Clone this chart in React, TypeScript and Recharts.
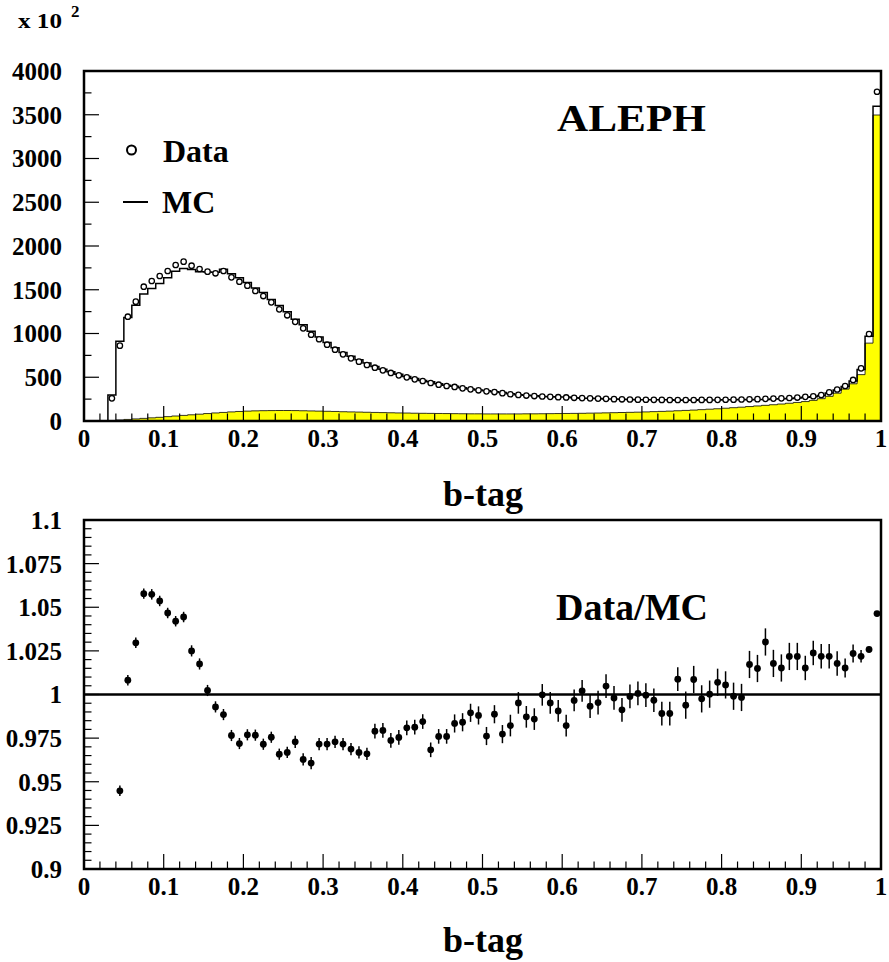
import React from "react";
import {
  ComposedChart,
  XAxis,
  YAxis,
  Line,
  Area,
  Scatter,
  ErrorBar,
  ReferenceLine,
  ReferenceArea,
} from "recharts";

// 100 bins of width 0.01 on the b-tag axis
const BIN_WIDTH = 0.01;
const N_BINS = 100;

// MC total, per bin (units of 10^2)
const mcCounts = [
  0, 0, 0, 297, 911, 1183, 1324, 1451, 1514, 1572,
  1637, 1711, 1744, 1732, 1707, 1704, 1700, 1734, 1682, 1638,
  1583, 1521, 1470, 1390, 1321, 1249, 1164, 1100, 1026, 961,
  897, 838, 784, 739, 701, 663, 622, 591, 564, 535,
  509, 485, 464, 448, 425, 410, 396, 379, 366, 355,
  347, 335, 325, 312, 299, 295, 289, 280, 277, 275,
  274, 266, 261, 261, 257, 252, 251, 250, 246, 244,
  243, 243, 244, 243, 238, 241, 238, 242, 241, 240,
  242, 244, 246, 244, 246, 246, 251, 255, 257, 262,
  272, 276, 291, 321, 354, 394, 458, 589, 969, 3598,
];

// b component of the MC (yellow)
const bCounts = [
  0, 0, 0, 5, 12, 18, 24, 30, 36, 42,
  50, 57, 64, 71, 78, 85, 92, 98, 104, 109,
  113, 116, 118, 119, 120, 120, 119, 117, 115, 113,
  111, 109, 106, 104, 102, 100, 98, 96, 94, 92,
  91, 89, 88, 87, 86, 85, 84, 83, 82, 82,
  81, 81, 81, 81, 81, 82, 82, 83, 84, 85,
  86, 87, 88, 90, 91, 93, 95, 97, 99, 101,
  104, 107, 110, 113, 117, 121, 125, 130, 135, 140,
  146, 152, 158, 165, 172, 179, 186, 194, 203, 212,
  222, 236, 255, 282, 318, 365, 425, 530, 890, 3497,
];

// data, per bin (null = empty bin)
const dataCounts = [
  null, null, null, 259, 861, 1192, 1364, 1535, 1600, 1657,
  1714, 1783, 1821, 1775, 1737, 1707, 1688, 1714, 1642, 1592,
  1547, 1486, 1428, 1356, 1276, 1208, 1133, 1059, 986, 934,
  872, 815, 762, 716, 678, 640, 609, 579, 549, 522,
  499, 476, 457, 434, 415, 400, 389, 373, 362, 351,
  339, 331, 318, 306, 298, 291, 285, 280, 276, 272,
  269, 265, 262, 259, 256, 253, 250, 248, 246, 244,
  243, 242, 241, 240, 240, 240, 240, 241, 241, 242,
  243, 244, 246, 248, 250, 253, 256, 259, 263, 268,
  276, 283, 297, 328, 360, 400, 469, 602, 994, 3763,
];

// Data/MC ratio, first bin shown is bin 4 (0.04-0.05)
const RATIO_FIRST_BIN = 4;
const ratioValues = [
  0.9448, 1.0082, 1.0296, 1.0578, 1.0574, 1.0536, 1.0467, 1.042, 1.0444, 1.025,
  1.0175, 1.0023, 0.9929, 0.9885, 0.9765, 0.9719, 0.9769, 0.9767, 0.9715, 0.9755,
  0.9658, 0.9668, 0.9729, 0.9628, 0.9607, 0.9716, 0.9716, 0.9729, 0.9716, 0.9687,
  0.9668, 0.966, 0.979, 0.9794, 0.9737, 0.9754, 0.9809, 0.9813, 0.9845, 0.9683,
  0.976, 0.976, 0.9834, 0.9841, 0.9895, 0.988, 0.9762, 0.9887, 0.9773, 0.9822,
  0.9952, 0.9872, 0.9859, 0.9998, 0.9952, 0.9906, 0.9822, 0.9966, 1.0021, 0.9933,
  0.9954, 1.0048, 0.998, 0.9912, 0.9989, 1.0006, 0.9996, 0.9967, 0.9891, 0.9891,
  1.0088, 0.9939, 1.0086, 0.9975, 1.0002, 1.007, 1.0055, 0.999, 0.9983, 1.0172,
  1.0149, 1.0301, 1.0178, 1.0152, 1.0218, 1.0218, 1.0152, 1.0238, 1.0219, 1.0219,
  1.0178, 1.0152, 1.0235, 1.0219, 1.0258, 1.0464,
];

const ratioErrors = [
  0.003, 0.003, 0.003, 0.003, 0.003, 0.003, 0.003, 0.003, 0.003, 0.0032,
  0.0032, 0.0032, 0.0032, 0.0032, 0.0032, 0.0032, 0.0032, 0.0032, 0.0032, 0.0032,
  0.0032, 0.0032, 0.0035, 0.0035, 0.0035, 0.0035, 0.0035, 0.0035, 0.0035, 0.0035,
  0.0035, 0.0035, 0.0042, 0.0042, 0.0042, 0.0042, 0.0042, 0.0042, 0.0042, 0.0042,
  0.0042, 0.0042, 0.0052, 0.0052, 0.0052, 0.0052, 0.0052, 0.0052, 0.0052, 0.0062,
  0.0062, 0.0062, 0.0062, 0.0062, 0.0062, 0.0062, 0.0062, 0.0062, 0.0062, 0.0068,
  0.0068, 0.0068, 0.0068, 0.0068, 0.0068, 0.0068, 0.0068, 0.0068, 0.0068, 0.0068,
  0.0068, 0.0078, 0.0078, 0.0078, 0.0078, 0.0078, 0.0078, 0.0078, 0.0078, 0.0078,
  0.0078, 0.0078, 0.0078, 0.0078, 0.0078, 0.0078, 0.007, 0.007, 0.007, 0.007,
  0.007, 0.0055, 0.0052, 0.0036, 0.0015, 0.0015,
];

const xTicks = [0, 0.1, 0.2, 0.3, 0.4, 0.5, 0.6, 0.7, 0.8, 0.9, 1];
const xMinorTicks = [
  0.02, 0.04, 0.06, 0.08, 0.12, 0.14, 0.16, 0.18, 0.22, 0.24, 0.26, 0.28,
  0.32, 0.34, 0.36, 0.38, 0.42, 0.44, 0.46, 0.48, 0.52, 0.54, 0.56, 0.58,
  0.62, 0.64, 0.66, 0.68, 0.72, 0.74, 0.76, 0.78, 0.82, 0.84, 0.86, 0.88,
  0.92, 0.94, 0.96, 0.98,
];
const countTicks = [0, 500, 1000, 1500, 2000, 2500, 3000, 3500, 4000];
const countMinorTicks = [250, 750, 1250, 1750, 2250, 2750, 3250, 3750];
const ratioTicks = [0.9, 0.925, 0.95, 0.975, 1, 1.025, 1.05, 1.075, 1.1];
const ratioMinorTicks = [
  0.905, 0.91, 0.915, 0.92, 0.93, 0.935, 0.94, 0.945, 0.955, 0.96, 0.965, 0.97,
  0.98, 0.985, 0.99, 0.995, 1.005, 1.01, 1.015, 1.02, 1.03, 1.035, 1.04, 1.045,
  1.055, 1.06, 1.065, 1.07, 1.08, 1.085, 1.09, 1.095,
];

// rows for the step histograms: one per bin edge, last edge repeats last bin
const histRows = Array.from({ length: N_BINS + 1 }, (_, i) => {
  const k = Math.min(i, N_BINS - 1);
  return { x: +(i * BIN_WIDTH).toFixed(2), mc: mcCounts[k], b: bCounts[k] };
});

const dataPoints = dataCounts
  .map((v, i) => ({ x: +((i + 0.5) * BIN_WIDTH).toFixed(3), y: v }))
  .filter((p) => p.y !== null);

const ratioPoints = ratioValues.map((r, j) => ({
  x: +((j + RATIO_FIRST_BIN + 0.5) * BIN_WIDTH).toFixed(3),
  r,
  err: ratioErrors[j],
}));

const FONT = '"Liberation Serif", "Times New Roman", serif';
const tickStyle = { fontSize: 25, fontWeight: "bold", fill: "#000", fontFamily: FONT };

const OpenCircle = (props: any) => (
  <circle cx={props.cx} cy={props.cy} r={2.7} fill="#fff" stroke="#000" strokeWidth={1.3} />
);
const FullCircle = (props: any) => (
  <circle cx={props.cx} cy={props.cy} r={3.4} fill="#000" />
);

const fmt = (v: number) => String(v);

// inward tick marks drawn as short segments in data units
const TOP_X_MAJOR = 171; // ~15px in counts
const TOP_X_MINOR = 86;
const TOP_Y_MAJOR = 0.0188; // ~15px in b-tag units
const TOP_Y_MINOR = 0.0094;
const BOT_X_MAJOR = 0.0086;
const BOT_X_MINOR = 0.0043;

const App: React.FC = () => {
  return (
    <div
      style={{
        position: "absolute",
        left: 0,
        top: 0,
        width: 889,
        height: 962,
        background: "#fff",
        fontFamily: FONT,
      }}
    >
      <div style={{ position: "absolute", left: 0, top: 0 }}>
        <ComposedChart
          width={889}
          height={470}
          data={histRows}
          margin={{ top: 71, right: 8, bottom: 9, left: 4 }}
        >
          <XAxis
            dataKey="x"
            type="number"
            domain={[0, 1]}
            ticks={xTicks}
            tickFormatter={fmt}
            axisLine={false}
            tickLine={false}
            tickSize={0}
            tickMargin={8}
            height={40}
            tick={tickStyle}
            interval={0}
          />
          <YAxis
            type="number"
            domain={[0, 4000]}
            ticks={countTicks}
            axisLine={false}
            tickLine={false}
            tickSize={0}
            tickMargin={22}
            width={80}
            tick={tickStyle}
            interval={0}
            allowDataOverflow
          />
          {xTicks.map((t) => (
            <ReferenceLine
              key={"tx" + t}
              segment={[{ x: t, y: 0 }, { x: t, y: TOP_X_MAJOR }]}
              stroke="#000"
              strokeWidth={1.2}
            />
          ))}
          {xMinorTicks.map((t) => (
            <ReferenceLine
              key={"tmx" + t}
              segment={[{ x: t, y: 0 }, { x: t, y: TOP_X_MINOR }]}
              stroke="#000"
              strokeWidth={1.2}
            />
          ))}
          {countTicks.map((t) => (
            <ReferenceLine
              key={"ty" + t}
              segment={[{ x: 0, y: t }, { x: TOP_Y_MAJOR, y: t }]}
              stroke="#000"
              strokeWidth={1.2}
            />
          ))}
          {countMinorTicks.map((t) => (
            <ReferenceLine
              key={"tmy" + t}
              segment={[{ x: 0, y: t }, { x: TOP_Y_MINOR, y: t }]}
              stroke="#000"
              strokeWidth={1.2}
            />
          ))}
          <Area
            type="stepAfter"
            dataKey="b"
            fill="#ffff00"
            fillOpacity={1}
            stroke="#000"
            strokeWidth={0.8}
            isAnimationActive={false}
          />
          <Line
            type="stepAfter"
            dataKey="mc"
            stroke="#000"
            strokeWidth={1.5}
            dot={false}
            isAnimationActive={false}
          />
          <Scatter
            data={dataPoints}
            dataKey="y"
            shape={OpenCircle}
            isAnimationActive={false}
          />
          <ReferenceArea
            x1={0}
            x2={1}
            y1={0}
            y2={4000}
            fill="none"
            fillOpacity={0}
            stroke="#000"
            strokeWidth={2.5}
          />
        </ComposedChart>
      </div>

      <div style={{ position: "absolute", left: 0, top: 480 }}>
        <ComposedChart
          width={889}
          height={430}
          data={ratioPoints}
          margin={{ top: 40, right: 8, bottom: 1, left: 4 }}
        >
          <XAxis
            dataKey="x"
            type="number"
            domain={[0, 1]}
            ticks={xTicks}
            tickFormatter={fmt}
            axisLine={false}
            tickLine={false}
            tickSize={0}
            tickMargin={8}
            height={40}
            tick={tickStyle}
            interval={0}
          />
          <YAxis
            type="number"
            domain={[0.9, 1.1]}
            ticks={ratioTicks}
            tickFormatter={fmt}
            axisLine={false}
            tickLine={false}
            tickSize={0}
            tickMargin={22}
            width={80}
            tick={tickStyle}
            interval={0}
            allowDataOverflow
          />
          {xTicks.map((t) => (
            <ReferenceLine
              key={"bx" + t}
              segment={[{ x: t, y: 0.9 }, { x: t, y: 0.9 + BOT_X_MAJOR }]}
              stroke="#000"
              strokeWidth={1.2}
            />
          ))}
          {xMinorTicks.map((t) => (
            <ReferenceLine
              key={"bmx" + t}
              segment={[{ x: t, y: 0.9 }, { x: t, y: 0.9 + BOT_X_MINOR }]}
              stroke="#000"
              strokeWidth={1.2}
            />
          ))}
          {ratioTicks.map((t) => (
            <ReferenceLine
              key={"by" + t}
              segment={[{ x: 0, y: t }, { x: TOP_Y_MAJOR, y: t }]}
              stroke="#000"
              strokeWidth={1.2}
            />
          ))}
          {ratioMinorTicks.map((t) => (
            <ReferenceLine
              key={"bmy" + t}
              segment={[{ x: 0, y: t }, { x: TOP_Y_MINOR, y: t }]}
              stroke="#000"
              strokeWidth={1.2}
            />
          ))}
          <ReferenceLine y={1} stroke="#000" strokeWidth={2.5} />
          <Scatter
            data={ratioPoints}
            dataKey="r"
            shape={FullCircle}
            isAnimationActive={false}
          >
            <ErrorBar dataKey="err" direction="y" width={0} stroke="#000" strokeWidth={1.5} />
          </Scatter>
          <ReferenceArea
            x1={0}
            x2={1}
            y1={0.9}
            y2={1.1}
            fill="none"
            fillOpacity={0}
            stroke="#000"
            strokeWidth={2.5}
          />
        </ComposedChart>
      </div>

      <svg
        width={889}
        height={962}
        style={{ position: "absolute", left: 0, top: 0, pointerEvents: "none" }}
        fontFamily={FONT}
        fontWeight="bold"
      >
        <text x={18} y={28} fontSize={22} textLength={44} lengthAdjust="spacingAndGlyphs">x 10</text>
        <text x={71} y={17} fontSize={17}>2</text>
        <text x={557} y={131} fontSize={38} textLength={149} lengthAdjust="spacingAndGlyphs">ALEPH</text>
        <circle cx={131.5} cy={150} r={4.5} fill="#fff" stroke="#000" strokeWidth={2} />
        <text x={163} y={162} fontSize={32}>Data</text>
        <line x1={123} x2={148} y1={202} y2={202} stroke="#000" strokeWidth={2} />
        <text x={162} y={213} fontSize={32}>MC</text>
        <text x={483} y={506} fontSize={36} textAnchor="middle">b-tag</text>
        <text x={556} y={620} fontSize={38}>Data/MC</text>
        <text x={483} y={952} fontSize={36} textAnchor="middle">b-tag</text>
      </svg>
    </div>
  );
};

export default App;
